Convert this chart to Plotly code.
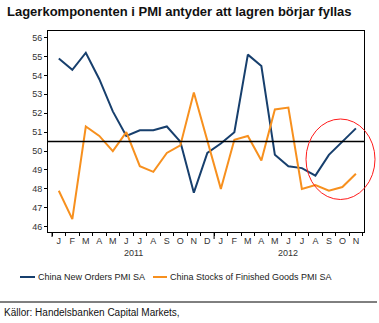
import plotly.graph_objects as go

# Monthly PMI sub-indices, Jan 2011 - Nov 2012
months = ["J", "F", "M", "A", "M", "J", "J", "A", "S", "O", "N", "D",
          "J", "F", "M", "A", "M", "J", "J", "A", "S", "O", "N"]
years = ["2011", "2012"]
new_orders = [54.9, 54.3, 55.2, 53.8, 52.1, 50.8, 51.1, 51.1, 51.3, 50.5, 47.8, 49.9,
              50.4, 51.0, 55.1, 54.5, 49.8, 49.2, 49.1, 48.7, 49.8, 50.5, 51.2]
stocks = [47.9, 46.4, 51.3, 50.8, 50.0, 51.0, 49.2, 48.9, 49.9, 50.3, 53.1, 50.5,
          48.0, 50.6, 50.8, 49.5, 52.2, 52.3, 48.0, 48.2, 47.9, 48.1, 48.8]
names = ["China New Orders PMI SA", "China Stocks of Finished Goods PMI SA"]
colors = ["#173f6d", "#f7901e"]
threshold = 50.5

W, H = 379, 323
L, R, T, B = 48, 15, 31, 91
pw, ph = W - L - R, H - T - B


def px(x):
    return (x - L) / pw


def py(y):
    return (H - B - y) / ph


idx = list(range(len(months)))
fig = go.Figure()
for vals, name, col in zip([new_orders, stocks], names, colors):
    fig.add_trace(go.Scatter(x=idx, y=vals, mode="lines", name=name,
                             line=dict(color=col, width=2), showlegend=False))

tick_font = dict(family="Arial, Liberation Sans, sans-serif", size=9, color="#333333")

fig.update_layout(
    width=W, height=H,
    margin=dict(l=L, r=R, t=T, b=B),
    paper_bgcolor="white", plot_bgcolor="white",
    xaxis=dict(
        range=[-0.8, len(months) - 0.4],
        tickmode="array", tickvals=idx, ticktext=months,
        ticks="", showgrid=False, zeroline=False,
        showline=True, linecolor="black", linewidth=1, mirror=True,
        tickfont=tick_font,
        minor=dict(tickmode="array", tickvals=[i - 0.5 for i in idx] + [len(months) - 0.5],
                   ticks="outside", ticklen=3, tickcolor="black", showgrid=False),
    ),
    yaxis=dict(
        range=[45.72, 56.35], tickmode="linear", tick0=46, dtick=1,
        ticks="outside", ticklen=3, tickcolor="black",
        showgrid=False, zeroline=False,
        showline=True, linecolor="black", linewidth=1, mirror=True,
        tickfont=tick_font,
    ),
)

shapes = []
# 50.5 reference line
shapes.append(dict(type="line", xref="paper", yref="y", x0=0, x1=1, y0=threshold, y1=threshold,
                   line=dict(color="black", width=1.5)))
# year boundary tick
shapes.append(dict(type="line", xref="x", yref="paper", x0=11.5, x1=11.5, y0=0, y1=py(239),
                   line=dict(color="black", width=1)))
shapes.append(dict(type="line", xref="x", yref="paper", x0=-0.5, x1=-0.5, y0=0, y1=py(237),
                   line=dict(color="black", width=1)))
# highlight ellipse around recent months
shapes.append(dict(type="circle", xref="paper", yref="paper",
                   x0=px(306), x1=px(375), y0=py(199.5), y1=py(119),
                   line=dict(color="#ff1a1a", width=1)))
# legend samples
shapes.append(dict(type="line", xref="paper", yref="paper", x0=px(20), x1=px(35),
                   y0=py(277), y1=py(277), line=dict(color=colors[0], width=2)))
shapes.append(dict(type="line", xref="paper", yref="paper", x0=px(153), x1=px(167),
                   y0=py(277), y1=py(277), line=dict(color=colors[1], width=2)))
# separator above source line
shapes.append(dict(type="line", xref="paper", yref="paper", x0=px(0), x1=px(377),
                   y0=py(302), y1=py(302), line=dict(color="black", width=1)))
fig.update_layout(shapes=shapes)

ann_font = dict(family="Arial, Liberation Sans, sans-serif", size=9, color="#222222")
annotations = [
    dict(text="<b>Lagerkomponenten i PMI antyder att lagren börjar fyllas</b>",
         xref="paper", yref="paper", x=px(5), y=py(11), xanchor="left", yanchor="middle",
         showarrow=False, font=dict(family="Arial, Liberation Sans, sans-serif", size=13, color="#111111")),
    dict(text=years[0], xref="x", yref="paper", x=5.5, y=py(253), xanchor="center", yanchor="middle",
         showarrow=False, font=tick_font),
    dict(text=years[1], xref="x", yref="paper", x=17, y=py(253), xanchor="center", yanchor="middle",
         showarrow=False, font=tick_font),
    dict(text=names[0], xref="paper", yref="paper", x=px(36), y=py(277), xanchor="left", yanchor="middle",
         showarrow=False, font=ann_font),
    dict(text=names[1], xref="paper", yref="paper", x=px(168), y=py(277), xanchor="left", yanchor="middle",
         showarrow=False, font=ann_font),
    dict(text="Källor: Handelsbanken Capital Markets,", xref="paper", yref="paper",
         x=px(2), y=py(312), xanchor="left", yanchor="middle", showarrow=False,
         font=dict(family="Arial, Liberation Sans, sans-serif", size=10, color="#111111")),
]
fig.update_layout(annotations=annotations)

fig.write_html("out.html")
